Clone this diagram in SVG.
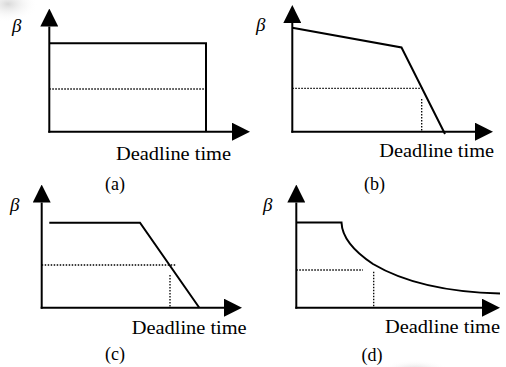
<svg xmlns="http://www.w3.org/2000/svg" width="506" height="367" viewBox="0 0 506 367">
<defs>
<style>
.ax{stroke:#000;stroke-width:2;fill:none;marker-end:url(#ar)}
.cv{stroke:#000;stroke-width:2;fill:none;stroke-linejoin:miter}
.dt{stroke:#000;stroke-width:1.3;fill:none;stroke-dasharray:1.5 1.5}
text{font-family:'Liberation Serif','Times New Roman',serif;fill:#000}
.tx{font-size:18px}
.b{font-size:19px;font-style:italic}
</style>
<marker id="ar" markerUnits="userSpaceOnUse" markerWidth="18" markerHeight="18" refX="0" refY="9" orient="auto" viewBox="0 0 18 18">
<path d="M0,0 L18,9 L0,18 Z" fill="#000"/>
</marker>
<radialGradient id="smudge">
<stop offset="0" stop-color="#c8c8c8" stop-opacity="0.7"/>
<stop offset="1" stop-color="#ffffff" stop-opacity="0"/>
</radialGradient>
</defs>
<rect width="506" height="367" fill="#fff"/>
<ellipse cx="8" cy="4" rx="30" ry="18" fill="url(#smudge)"/>
<ellipse cx="415" cy="370" rx="35" ry="10" fill="url(#smudge)"/>

<g id="panel-a">
<text class="b" x="12" y="31.5">β</text>
<text class="tx" x="116" y="159.5" textLength="115" lengthAdjust="spacingAndGlyphs">Deadline time</text>
<text class="tx" x="105" y="190">(a)</text>
<polyline class="cv" points="49.3,43.3 206,43.3 206,131.7"/>
<line class="dt" x1="49.3" y1="89" x2="206" y2="89"/>
</g>

<g id="panel-b">
<text class="b" x="256" y="31">β</text>
<text class="tx" x="379.3" y="157.3" textLength="114.7" lengthAdjust="spacingAndGlyphs">Deadline time</text>
<text class="tx" x="364" y="190">(b)</text>
<polyline class="cv" points="292.3,27.7 401.5,47.5 445,134"/>
<line class="dt" x1="292.3" y1="88.3" x2="424" y2="88.3"/>
<line class="dt" x1="421.7" y1="99" x2="421.7" y2="131"/>
</g>

<g id="panel-c">
<text class="b" x="10" y="211">β</text>
<text class="tx" x="131.7" y="333.5" textLength="115" lengthAdjust="spacingAndGlyphs">Deadline time</text>
<text class="tx" x="105" y="359.5">(c)</text>
<polyline class="cv" points="49.3,222.7 140,222.7 199.3,307.7"/>
<line class="dt" x1="41.7" y1="265" x2="176" y2="265"/>
<line class="dt" x1="170" y1="275" x2="170" y2="307"/>
</g>

<g id="panel-d">
<text class="b" x="263" y="211">β</text>
<text class="tx" x="385" y="333" textLength="115" lengthAdjust="spacingAndGlyphs">Deadline time</text>
<text class="tx" x="361.5" y="360.5">(d)</text>
<path class="cv" d="M296.3,222.5 L341.5,222.5 C342,236 352,250 373,264 C400,280 440,292 500,293.5"/>
<line class="dt" x1="296.3" y1="270" x2="363" y2="270"/>
<line class="dt" x1="373.7" y1="271.7" x2="373.7" y2="307"/>
</g>

<g id="connectors">
<line class="ax" x1="49.3" y1="132.7" x2="49.3" y2="26.5"/>
<line class="ax" x1="48.3" y1="131.7" x2="232" y2="131.7"/>
<line class="ax" x1="292.3" y1="132.7" x2="292.3" y2="23"/>
<line class="ax" x1="291.3" y1="131.7" x2="475" y2="131.7"/>
<line class="ax" x1="41.7" y1="308.7" x2="41.7" y2="202.5"/>
<line class="ax" x1="40.7" y1="307.7" x2="224" y2="307.7"/>
<line class="ax" x1="296.3" y1="308.7" x2="296.3" y2="202.5"/>
<line class="ax" x1="295.3" y1="307.7" x2="482" y2="307.7"/>
</g>
</svg>
